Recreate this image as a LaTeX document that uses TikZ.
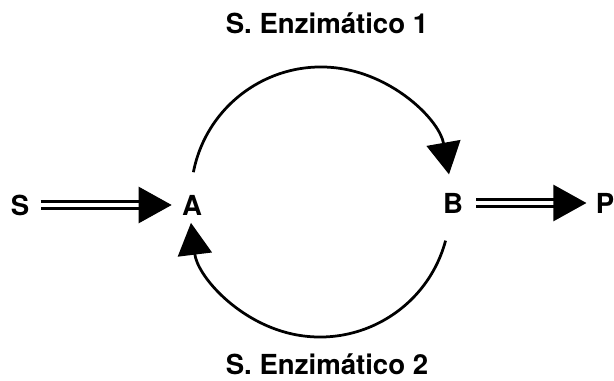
\documentclass[tikz,border=0pt]{standalone}
\usepackage{fontspec}
\setmainfont{TeX Gyre Heros}
\usetikzlibrary{arrows.meta}
\begin{document}
\begin{tikzpicture}[
    x=0.02cm, y=0.02cm,
    species/.style={inner sep=0pt, font=\bfseries\fontsize{15.7}{18}\selectfont},
    enzyme/.style={inner sep=0pt, font=\bfseries\fontsize{15.7}{18}\selectfont},
    flow/.style={double, double distance=0.09cm, line width=0.05cm, -{Triangle[length=0.66cm, width=0.72cm]}},
    cycle/.style={line width=0.055cm, -{Triangle[length=0.64cm, width=0.68cm]}},
]
    \useasboundingbox (0,0) rectangle (614,381);

    % Species
    \node[species] (S) at (20,176) {S};
    \node[species] (A) at (192,176) {A};
    \node[species] (B) at (453,178) {B};
    \node[species] (P) at (605,178) {P};

    % Enzyme labels
    \node[enzyme] (E1) at (327,358) {S. Enzimático 1};
    \node[enzyme] (E2) at (327,17) {S. Enzimático 2};

    % Input and output
    \draw[flow, shorten <=0.22cm, shorten >=0.2cm] (S) -- (A);
    \draw[flow, shorten <=0.26cm, shorten >=0.18cm] (B) -- (P);

    % Cycle
    \coordinate (c1) at (321,184);
    \coordinate (c2) at (320,174);
    \draw[cycle] (c1) ++(169:130) arc[start angle=169, end angle=10, radius=130];
    \draw[cycle] (c2) ++(-15:130) arc[start angle=-15, end angle=-173, radius=130];

\end{tikzpicture}
\end{document}
